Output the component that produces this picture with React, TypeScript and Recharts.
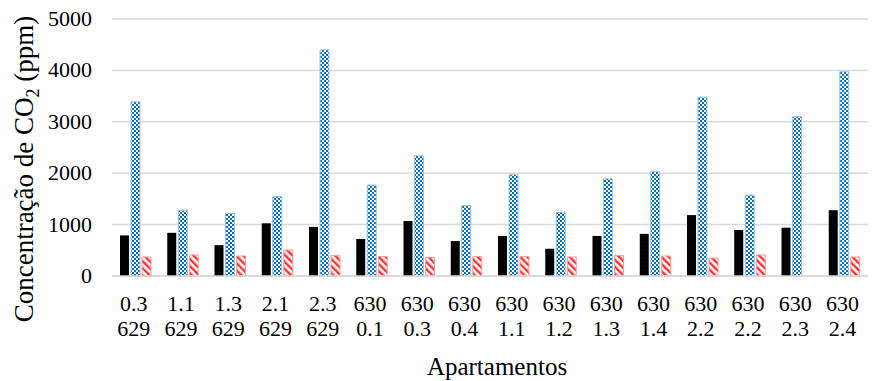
import React from 'react';
import { BarChart, Bar, XAxis, YAxis, CartesianGrid } from 'recharts';

const linha1 = ['0.3', '1.1', '1.3', '2.1', '2.3', '630', '630', '630', '630', '630', '630', '630', '630', '630', '630', '630'];
const linha2 = ['629', '629', '629', '629', '629', '0.1', '0.3', '0.4', '1.1', '1.2', '1.3', '1.4', '2.2', '2.2', '2.3', '2.4'];

const media = [790, 840, 600, 1025, 955, 720, 1070, 680, 780, 530, 780, 820, 1185, 895, 940, 1280];
const maxima = [3390, 1280, 1220, 1545, 4400, 1770, 2340, 1370, 1970, 1240, 1890, 2030, 3480, 1575, 3100, 3975];
const minima = [370, 410, 390, 505, 400, 380, 360, 380, 380, 370, 400, 390, 350, 410, null, 370];

const yTicks = [0, 1000, 2000, 3000, 4000, 5000];

const data = linha1.map((l1, i) => ({
  apto: `${l1}|${linha2[i]}`,
  media: media[i],
  maxima: maxima[i],
  minima: minima[i],
}));

const FONT = '"Liberation Serif", "Times New Roman", serif';

function AptoTick({ x, y, payload }: any) {
  const [a, b] = String(payload.value).split('|');
  const cx = x - 2;
  return (
    <text x={cx} y={y} textAnchor="middle" fontFamily={FONT} fontSize={22} fill="#000">
      <tspan x={cx} dy={27}>{a}</tspan>
      <tspan x={cx} dy={25}>{b}</tspan>
    </text>
  );
}

function ValorTick({ y, payload }: any) {
  return (
    <text x={92} y={y} dy={7} textAnchor="end" fontFamily={FONT} fontSize={22} fill="#000">
      {payload.value}
    </text>
  );
}

export default function App() {
  return (
    <div style={{ position: 'absolute', left: 0, top: 0, background: '#fff' }}>
      <BarChart
        width={873}
        height={381}
        data={data}
        margin={{ top: 19, right: 5, bottom: 0, left: 0 }}
        barSize={9}
        barGap={2}
      >
        <defs>
          <pattern id="xadrez" width="4" height="4" patternUnits="userSpaceOnUse">
            <rect width="4" height="4" fill="#ffffff" />
            <rect x="0" y="0" width="2" height="2" fill="#0070C0" />
            <rect x="2" y="2" width="2" height="2" fill="#0070C0" />
          </pattern>
          <pattern id="listras" width="5" height="5" patternUnits="userSpaceOnUse" patternTransform="rotate(-45)">
            <rect width="5" height="5" fill="#ffffff" />
            <rect x="0" y="0" width="2" height="5" fill="#FF3030" />
            <rect x="2" y="0" width="1" height="5" fill="#FFB0B0" />
          </pattern>
        </defs>
        <CartesianGrid vertical={false} stroke="#D9D9D9" strokeWidth={1.5} />
        <XAxis
          dataKey="apto"
          interval={0}
          tick={<AptoTick />}
          tickLine={false}
          axisLine={{ stroke: '#D9D9D9', strokeWidth: 1.5 }}
          height={105}
          label={() => (
            <text x={497} y={375} textAnchor="middle" fontFamily={FONT} fontSize={25} fill="#000">
              Apartamentos
            </text>
          )}
        />
        <YAxis
          domain={[0, 5000]}
          ticks={yTicks}
          interval={0}
          width={112}
          tickLine={false}
          axisLine={false}
          tick={<ValorTick />}
          label={() => {
            const cx = 33;
            const cy = 169;
            return (
              <text
                x={cx}
                y={cy}
                transform={`rotate(-90, ${cx}, ${cy})`}
                textAnchor="middle"
                fontFamily={FONT}
                fontSize={27}
                fill="#000"
              >
                Concentração de CO
                <tspan fontSize={18} dy={6}>2</tspan>
                <tspan dy={-6}> (ppm)</tspan>
              </text>
            );
          }}
        />
        <Bar dataKey="media" fill="#000000" isAnimationActive={false} />
        <Bar dataKey="maxima" fill="url(#xadrez)" stroke="#9DC3E6" strokeWidth={1} isAnimationActive={false} />
        <Bar dataKey="minima" fill="url(#listras)" stroke="#FF9999" strokeWidth={1} isAnimationActive={false} />
      </BarChart>
    </div>
  );
}
